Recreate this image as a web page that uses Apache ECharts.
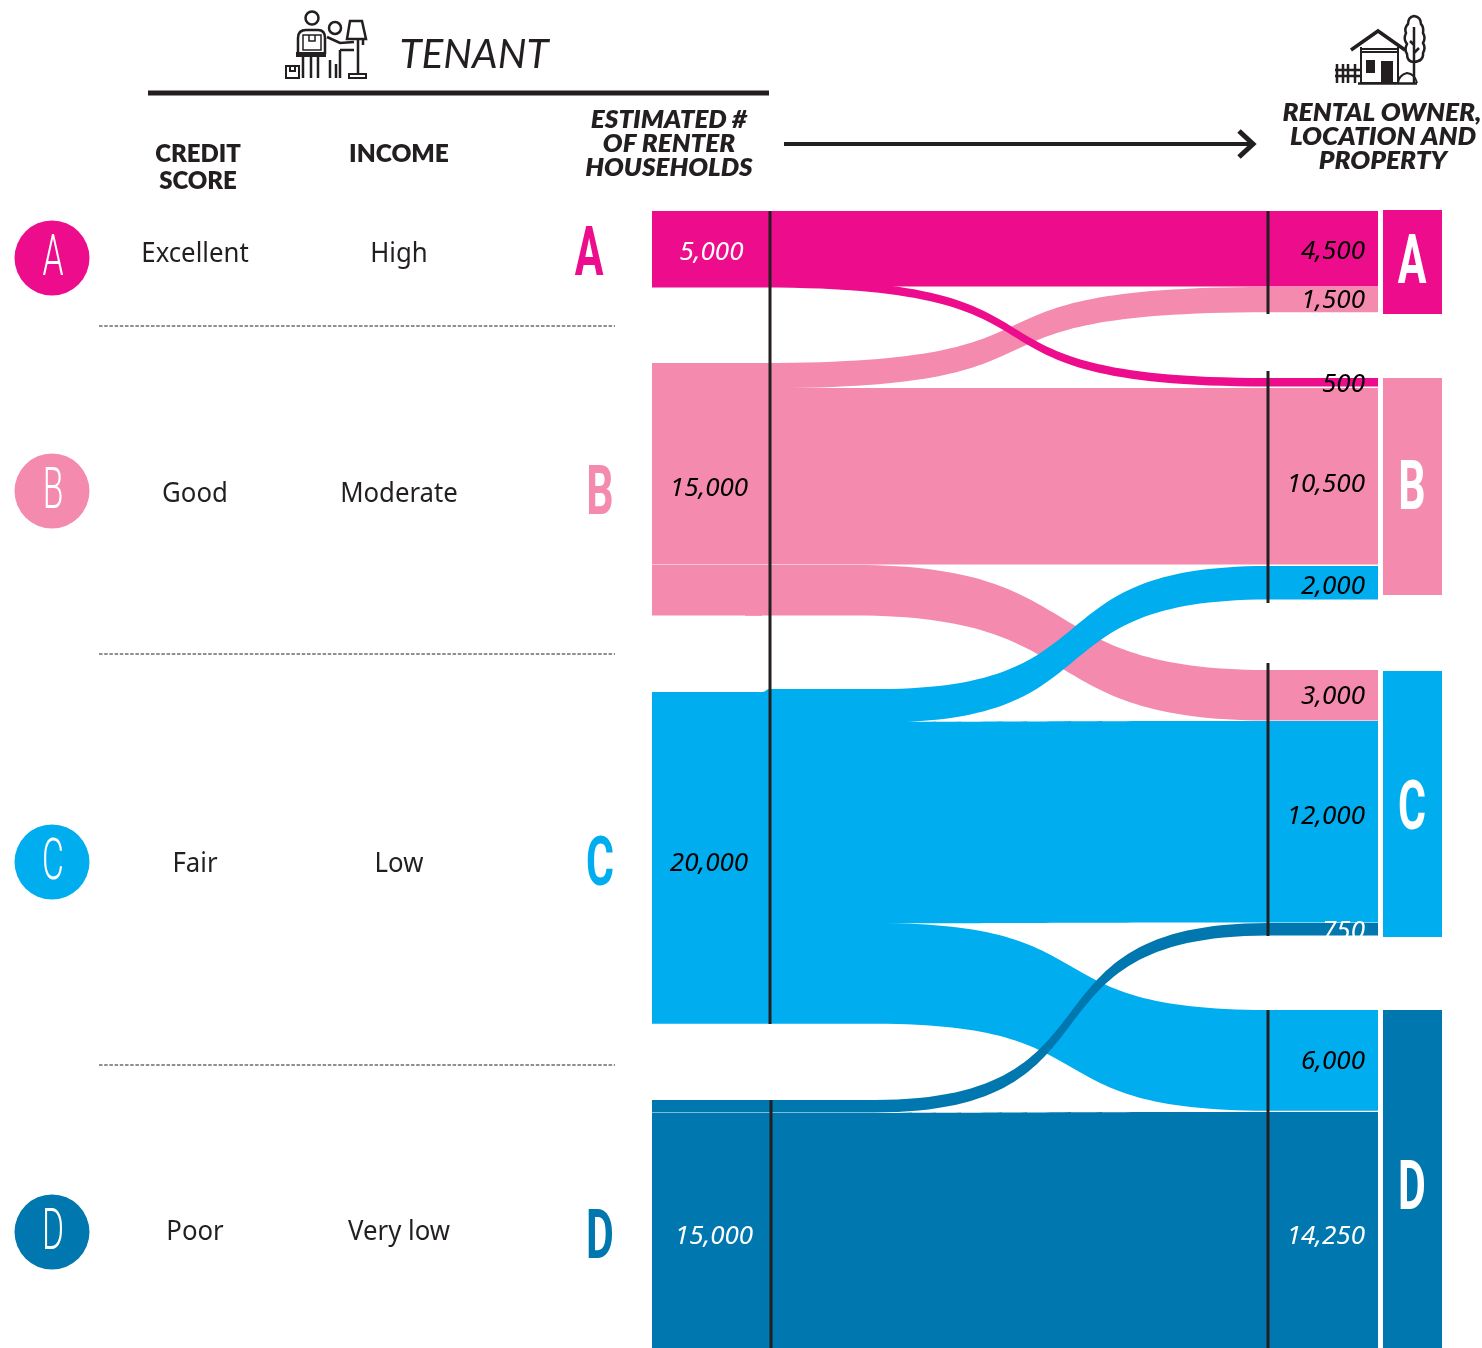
<!DOCTYPE html>
<html><head><meta charset="utf-8">
<script src="https://cdn.jsdelivr.net/npm/echarts@6/dist/echarts.min.js"></script>
<style>html,body{margin:0;padding:0;background:#fff}#c{width:1482px;height:1348px}</style>
</head><body><div id="c"></div>
<script>
// ---- data ----
const grades = ['A','B','C','D'];
const creditScores = ['Excellent','Good','Fair','Poor'];
const incomes = ['High','Moderate','Low','Very low'];
const tenantTotals = [5000,15000,20000,15000];
const flowTenant = ['A','A','B','B','B','C','C','C','D','D'];
const flowOwner  = ['A','B','A','B','C','B','C','D','C','D'];
const flowValues = [4500,500,1500,10500,3000,2000,12000,6000,750,14250];

// ---- layout / style (page pixels) ----
const W=1482,H=1348;
const ink='#231f20';
const colors={A:'#EC0C8C',B:'#F48AAE',C:'#00ADEF',D:'#0077AE'};
const leftTop =[211,279,363,388,565,692,722,923,1100,1113];
const rightTop=[211,378,287,388,670,566,721,1010,923,1112];
const leftX=652,rightX=1268,nodeW=110;
// flows whose bend sits further along get a holding step before it: [x, y]
const hold={4:[745,565],5:[770,689],7:[765,923],8:[765,1100]};
const linkCurve=[0.68,0.68,0.68,0.5,0.58,0.62,0.5,0.62,0.66,0.5];
// which left node carries the tenant total and its label offset
const totalOn={0:[0,0,4.5,4],3:[1,0,2,12],6:[2,0,2,41],9:[3,0,7,4]};
const rightOffset=[3,2,1,8,1,4,-5,1,2,5];
const linkOrder=[0,2,1,3,4,5,6,7,8,9];
const whiteRight={8:true,9:true};
const labelFont={fontFamily:'"Noto Sans"',fontStyle:'italic',fontSize:26};

const nodes=[],links=[];
flowValues.forEach((v,i)=>{
  const t=totalOn[i];
  nodes.push({
    name:'T'+i,localX:leftX/W,localY:leftTop[i]/H,
    itemStyle:{color:colors[flowTenant[i]]},
    label:t?{show:true,position:'inside',...labelFont,
      formatter:()=>tenantTotals[t[0]].toLocaleString('en-US'),
      color:(t[0]===0||t[0]===3)?'#fff':'#000',offset:[t[2],t[3]]}:{show:false}
  });
});
flowValues.forEach((v,i)=>{
  if(hold[i]) nodes.push({name:'M'+i,localX:hold[i][0]/W,localY:hold[i][1]/H,
    itemStyle:{color:colors[flowTenant[i]]},label:{show:false}});
  nodes.push({
    name:'R'+i,localX:rightX/W,localY:rightTop[i]/H,
    itemStyle:{color:colors[flowTenant[i]]},
    label:{show:true,position:'insideRight',distance:13,...labelFont,
      formatter:()=>v.toLocaleString('en-US'),
      color:whiteRight[i]?'#fff':'#000',offset:[0,rightOffset[i]]}
  });
});
linkOrder.forEach(i=>{
  const ls={color:colors[flowTenant[i]],opacity:1,curveness:linkCurve[i]};
  if(hold[i]){
    links.push({source:'T'+i,target:'M'+i,value:flowValues[i],lineStyle:ls});
    links.push({source:'M'+i,target:'R'+i,value:flowValues[i],lineStyle:ls});
  } else links.push({source:'T'+i,target:'R'+i,value:flowValues[i],lineStyle:ls});
});

// ---- decoration ----
const g=[];
const Z=10;
let pathId=0;
const line=(x1,y1,x2,y2,w,extra)=>g.push({type:'line',z:Z,silent:true,shape:{x1,y1,x2,y2},style:Object.assign({stroke:ink,lineWidth:w},extra||{})});
const text=(s,x,y,font,fill,sx,sy)=>g.push({type:'text',z:Z+1,silent:true,x,y,scaleX:sx||1,scaleY:sy||1,
  style:{text:s,font,fill:fill||ink,align:'center',verticalAlign:'middle'}});
const path=(d,stroke,fill,w)=>{
  const name='iconPath'+(pathId++);
  echarts.graphic.registerShape(name,echarts.graphic.extendPath(d));
  g.push({type:name,z:Z,silent:true,style:{stroke:stroke||ink,fill:fill||'none',lineWidth:w==null?2:w}});
};
const circ=(cx,cy,r,stroke,fill,w)=>g.push({type:'circle',z:Z,silent:true,shape:{cx,cy,r},style:{stroke:stroke||'none',fill:fill||'none',lineWidth:w||0}});
const rect=(x,y,w,h,fill)=>g.push({type:'rect',z:Z,silent:true,shape:{x,y,width:w,height:h},style:{fill}});

// header
line(148,93,769,93,5);
line(784,144,1250,144,4);
path('M1239 131L1253 144L1239 157',ink,null,5);
text('TENANT',474,55,'italic 400 40.5px Lato');
const hb='800 25px Lato', hi='italic 800 25px Lato';
text('CREDIT',198,154,hb,ink,0.96);text('SCORE',198,181,hb,ink,0.96);text('INCOME',399,154,hb,ink,0.98);
text('ESTIMATED #',669,120,hi,ink,1.04);text('OF RENTER',669,144,hi,ink,1.04);text('HOUSEHOLDS',669,168,hi,ink,1.04);
text('RENTAL OWNER,',1382,113,hi,ink,1.05);text('LOCATION AND',1383,137,hi,ink,1.05);text('PROPERTY',1383,161,hi,ink,1.05);

// rows
const rowText=[254,494,864,1232], circleY=[258,491,862,1232], bigY=[258,497,868,1241], bigX=[589,600,600,600];
grades.forEach((k,i)=>{
  circ(52,circleY[i],37.5,null,colors[k]);
  text(k,53,circleY[i]+2,'300 58px Roboto','#fff',0.58);
  text(creditScores[i],195,rowText[i],'28px "Noto Sans"',ink,0.92);
  text(incomes[i],399,rowText[i],'28px "Noto Sans"',ink,0.92);
  text(k,bigX[i],bigY[i],'700 69px Roboto',colors[k],0.62);
});
[326,654,1065].forEach(y=>line(99,y,615,y,1,{lineDash:[3.5,1.7]}));

// right blocks
const blockY=[[210,314],[378,595],[671,937],[1010,1348]], blockLetterY=[266,492,812,1192];
grades.forEach((k,i)=>{
  rect(1383,blockY[i][0],59,blockY[i][1]-blockY[i][0],colors[k]);
  text(k,1412,blockLetterY[i],'700 69px Roboto','#fff',0.62);
});

// white ground below the 750 band trims its label, as in the source
rect(1300,936,78,14,'#fff');

// vertical markers
[[770,211,1024],[771,1100,1348],[1268,211,314],[1268,371,603],[1268,663,936],[1268,1010,1348]]
  .forEach(a=>line(a[0],a[1],a[0],a[2],3));

// tenant icon
circ(312,18,6.5,ink,null,2.5);
path('M298 54V38Q298 30 306 30H318Q325 30 325 38V54',ink,null,2.5);
path('M303 35H321V50H303Z M309 35V41H315V35',ink,null,1.5);
rect(296,52,30,5,ink);
path('M303 57V78M311 57V78M318 57V78M330 60V78M336 64V78M340 50V78',ink,null,2.5);
path('M286 66H299V78H286Z M290 66V71H295V66',ink,null,2);
circ(335,28,6,ink,null,2.5);
path('M327 37L340 43L354 42M340 50L354 50',ink,null,2.5);
path('M350 21H362L366 39H347Z',ink,null,2.5);
path('M358 39V74M363 39V45',ink,null,2.5);
path('M349 74H366V78H349Z',ink,null,2);

// house icon
path('M1351 50L1378 31L1405 50',ink,null,3.5);
path('M1361 47V83H1398V47M1361 49H1398M1361 52H1398',ink,null,2);
rect(1366,60,9,13,ink);rect(1381,61,12,22,ink);
path('M1337 64V83M1343 64V83M1348 64V83M1355 64V83M1335 70H1360M1335 76H1360',ink,null,2.5);
path('M1358 83.5H1417',ink,null,2.5);
path('M1398 83Q1399 75 1407 73Q1415 74 1417 83',ink,null,2);
path('M1414 16Q1408 17 1408 24Q1404 28 1406 33Q1403 39 1407 44Q1404 50 1407 54Q1407 62 1414 62Q1424 61 1423 53Q1426 48 1423 43Q1426 38 1423 33Q1424 27 1421 24Q1421 17 1414 16Z',ink,null,2.5);
path('M1414 27V83M1414 45L1410 41M1414 53L1419 48',ink,null,2.5);

const chart=echarts.init(document.getElementById('c'),null,{renderer:'canvas'});
chart.setOption({
  animation:false,
  backgroundColor:'#fff',
  series:[{
    type:'sankey',left:0,top:0,width:W,height:H,
    nodeWidth:nodeW,nodeGap:47.1,layoutIterations:0,
    silent:true,emphasis:{disabled:true},
    data:nodes,links:links,
    itemStyle:{borderWidth:0},
    lineStyle:{opacity:1}
  }],
  graphic:{elements:g}
});
</script></body></html>
